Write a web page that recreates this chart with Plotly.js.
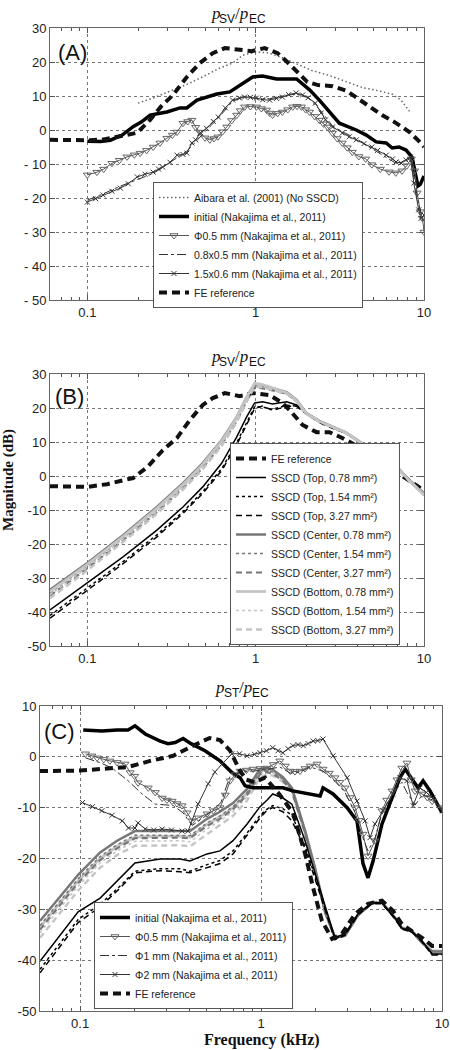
<!DOCTYPE html>
<html><head><meta charset="utf-8">
<script src="https://cdn.plot.ly/plotly-3.0.1.min.js"></script>
<style>html,body{margin:0;padding:0;background:#fff}</style>
</head><body><div id="chart" style="width:450px;height:1050px"></div>
<script>
// ---------- Panel A data ----------
const aibaraF = [0.2, 0.246, 0.323, 0.407, 0.51, 0.61, 0.73, 0.84, 1.01, 1.21, 1.45, 1.74, 2.16, 2.75, 3.47, 4.3, 5.4, 6.5, 7.3, 8.2];
const aibaraDB = [7.9, 9.4, 11.8, 13.8, 16.2, 18.2, 19.7, 22, 23, 22.6, 21.2, 19.5, 17.5, 16, 14.1, 12.5, 11.5, 10.5, 8.8, 5.5];
const initAF = [0.1, 0.12, 0.137, 0.161, 0.187, 0.21, 0.236, 0.297, 0.355, 0.39, 0.448, 0.513, 0.588, 0.702, 0.804, 0.96, 1.10, 1.33, 1.75, 2.09, 2.39, 2.74, 3.14, 3.96, 4.54, 5.2, 5.96, 6.47, 7.11, 7.82, 8.5, 9.2, 9.5, 10];
const initADB = [-3.3, -3.4, -3, -1.5, 1, 2.4, 4.4, 5.3, 6.5, 6.5, 8.8, 9.7, 10.6, 11.2, 13.2, 15.6, 15.9, 15, 15, 11.8, 8.8, 5.3, 2, 0, -1.5, -3.5, -3.8, -5.3, -5, -5.9, -8, -16.5, -16, -13.5];
const phi05AF = [0.1, 0.114, 0.125, 0.14, 0.155, 0.172, 0.19, 0.206, 0.225, 0.246, 0.27, 0.297, 0.32, 0.341, 0.37, 0.395, 0.418, 0.44, 0.466, 0.5, 0.534, 0.566, 0.596, 0.635, 0.674, 0.72, 0.772, 0.81, 0.86, 0.93, 1.01, 1.08, 1.16, 1.21, 1.26, 1.35, 1.44, 1.55, 1.66, 1.76, 1.87, 1.98, 2.09, 2.24, 2.39, 2.53, 2.67, 2.86, 3.05, 3.27, 3.5, 3.75, 4.1, 4.5, 4.9, 5.5, 6.2, 6.8, 7.4, 7.9, 8.4, 8.8, 9.1, 9.5, 9.8, 10];
const phi05ADB = [-13.2, -12.4, -11.5, -9.8, -8.9, -7.9, -7.3, -6.8, -6, -5, -3.8, -2.4, -1.5, -0.6, 2, 2.5, 2.9, 0.8, -0.6, -2.3, -2.9, -2.5, -2, -0.5, 0.9, 2.8, 4.4, 5.7, 6.8, 6.9, 6.8, 6.3, 5.9, 5, 4.4, 4.9, 5.3, 6, 6.8, 7, 6.8, 6, 5.3, 4, 2.9, 1.8, 0.9, -0.9, -2.5, -3.8, -5.2, -6.5, -7.8, -8.5, -10.2, -11.5, -12.3, -12.6, -12, -10.5, -8.5, -12, -18.5, -24, -26, -30];
const dd08AF = [0.1, 0.124, 0.157, 0.198, 0.246, 0.28, 0.341, 0.39, 0.44, 0.51, 0.6, 0.73, 0.86, 1.01, 1.21, 1.44, 1.74, 2.05, 2.45, 2.86, 3.27, 3.96, 4.9, 5.96, 6.83, 7.8, 8.3, 8.7, 9.3, 10];
const dd08ADB = [-20.6, -18.8, -16.5, -14.5, -12.8, -11, -8, -6.2, -3.5, 0, 3.5, 8.5, 9.8, 9.2, 9.2, 10, 10.6, 9.6, 5.5, 1.2, -0.5, -2.5, -5.5, -8, -9.8, -9.2, -8.3, -14, -22, -27];
const x15AF = [0.1, 0.112, 0.124, 0.14, 0.157, 0.175, 0.198, 0.22, 0.246, 0.265, 0.28, 0.31, 0.341, 0.37, 0.39, 0.418, 0.44, 0.466, 0.51, 0.56, 0.6, 0.66, 0.73, 0.8, 0.86, 0.93, 1.01, 1.1, 1.21, 1.33, 1.44, 1.57, 1.74, 1.9, 2.05, 2.26, 2.45, 2.6, 2.86, 3.27, 3.6, 3.96, 4.4, 4.9, 5.3, 5.96, 6.5, 6.83, 7.3, 7.8, 8.3, 8.7, 9.3, 9.6, 10];
const x15ADB = [-21.2, -20.2, -19.1, -18, -17.1, -15.8, -13.8, -13, -12.4, -11.5, -10.9, -9.5, -7.4, -7.2, -6.8, -3.8, -2.9, -1, 0.5, 2.5, 3.8, 6.5, 8.8, 9.4, 9.7, 9.6, 9.4, 8.9, 8.8, 9.3, 9.7, 10.4, 10.9, 10.3, 9.5, 7.9, 5, 3, 0.9, -0.9, -2, -2.9, -4, -5, -6, -7.4, -8.5, -9.4, -9.7, -8.8, -7.9, -15.6, -23.5, -26, -25];
const feAF = [0.06, 0.08, 0.104, 0.125, 0.15, 0.175, 0.198, 0.236, 0.275, 0.323, 0.39, 0.466, 0.556, 0.656, 0.77, 0.945, 1.13, 1.35, 1.54, 1.77, 2.03, 2.35, 2.86, 3.47, 4.02, 4.7, 5.63, 6.8, 8.2, 9.3, 10];
const feADB = [-2.9, -3, -3, -2.8, -2, -1.4, -0.8, 3, 7, 10.3, 15.6, 19.7, 22.6, 24.1, 23.6, 23.2, 24.1, 22.6, 20, 17, 14.1, 13.2, 12.9, 11.5, 9.4, 7.1, 4.4, 2.1, -0.6, -3.2, -5];

// ---------- Panel B data ----------
const feBF = [0.06, 0.1, 0.131, 0.187, 0.227, 0.281, 0.341, 0.407, 0.485, 0.556, 0.656, 0.804, 0.96, 1.21, 1.44, 1.59, 1.9, 2.3, 2.74, 3.27, 4.12, 5.2, 6.2, 7.8, 9.3, 10];
const feBDB = [-3, -3.2, -2.4, -0.6, 2.6, 7.6, 11.2, 16.5, 20.9, 22.9, 24.4, 23.5, 24.4, 23.8, 21.5, 19.4, 15, 12.9, 12.9, 11.2, 8.5, 5.6, 2.6, -0.6, -3.2, -4.5];
const sscdBF = [0.06, 0.1, 0.163, 0.259, 0.37, 0.485, 0.629, 0.772, 0.884, 0.986, 1.1, 1.26, 1.53, 1.75, 2.0, 2.39, 2.86, 3.45, 4.12, 4.92, 5.96, 7.1, 8.1, 10];
const topSolidB = [-39.4, -31.5, -23.8, -15.9, -9.1, -3.2, 3.8, 11.5, 17.4, 21.5, 21.8, 21.2, 21.8, 20.9, 18.5, 15.9, 14.4, 12.6, 10, 7.6, 4.7, 1.8, -1.2, -5.3];
const topDotB = [-41, -32.8, -25.2, -17.3, -10.5, -4.6, 2.2, 9.8, 15.8, 20.4, 20.3, 19.6, 20.8, 20.6, 18.4, 15.8, 14.2, 12.5, 9.9, 7.5, 4.6, 1.7, -1.2, -5.3];
const topDashB = [-41.8, -33.5, -25.8, -17.9, -11, -5.1, 1.6, 9.2, 15.2, 19.9, 20.6, 19.3, 20.5, 20.5, 18.3, 15.7, 14, 12.6, 10.1, 7.8, 5, 2.2, -0.8, -5];
const centerSolidB = [-33.5, -25.6, -17.4, -9.1, -2.1, 3.8, 10.6, 17.4, 23.2, 27, 26.6, 25.9, 24.7, 22.4, 18.5, 16.2, 14.6, 12.8, 10.2, 7.8, 4.9, 2, -1, -5.4];
const centerDotB = [-34.4, -26.4, -18.2, -9.9, -2.9, 3, 9.9, 16.8, 22.6, 26.4, 26.2, 25.4, 24.4, 22.2, 18.4, 16.1, 14.5, 12.7, 10.1, 7.7, 4.8, 1.9, -1.1, -5.5];
const centerDashB = [-35.2, -27.1, -18.9, -10.6, -3.6, 2.4, 9.3, 16.2, 22.1, 26, 25.8, 25.1, 24.2, 22, 18.3, 16, 14.4, 12.6, 10, 7.6, 4.7, 1.8, -1.2, -5.6];
const bottomSolidB = [-34, -26, -17.8, -9.5, -2.5, 3.4, 10.3, 17.2, 23.2, 27.3, 26.9, 25.9, 24.5, 22.2, 18.4, 16.1, 14.5, 12.7, 10.1, 7.7, 4.8, 1.9, -1.1, -5.5];
const bottomDotB = [-35, -26.9, -18.6, -10.3, -3.3, 2.7, 9.6, 16.5, 22.5, 26.8, 26.5, 25.6, 24.3, 22.1, 18.3, 16, 14.4, 12.6, 10, 7.6, 4.7, 1.8, -1.2, -5.6];
const bottomDashB = [-36, -27.8, -19.4, -11.1, -4, 2, 8.9, 15.8, 21.8, 26.3, 26.1, 25.3, 24.1, 21.9, 18.2, 15.9, 14.3, 12.5, 9.9, 7.5, 4.6, 1.7, -1.3, -5.7];

// ---------- Panel C data ----------
const sscdCF = [0.06, 0.0975, 0.129, 0.16, 0.201, 0.277, 0.357, 0.405, 0.503, 0.593, 0.7, 0.837, 0.987, 1.08, 1.16, 1.32, 1.48, 1.75, 1.99, 2.26, 2.56, 2.91, 3.43, 4.1, 4.66, 5.5, 6.0, 6.82, 7.76, 8.82, 10];
const topSolidC = [-40.2, -30.5, -27.8, -24.4, -20.9, -20.1, -20.1, -20.5, -19.1, -18.5, -16.5, -13.2, -9.8, -8.5, -7.3, -8.1, -9.3, -16.5, -23, -29.7, -35.6, -34.8, -30.9, -28.7, -28.7, -31.7, -33.7, -34.3, -36.2, -38.8, -38.8];
const topDotC = [-41.8, -32, -29, -26, -22.5, -22, -22, -22.5, -21.2, -20.4, -18.5, -15, -11.5, -10.3, -9.6, -10.2, -11.5, -17.5, -23.6, -30, -35.8, -35, -31, -28.8, -28.8, -31.8, -33.8, -34.4, -36.3, -38.9, -38.9];
const topDashC = [-42.5, -32.6, -29.5, -26.4, -22.8, -22.4, -22.6, -22.8, -21.8, -21, -19.1, -15.5, -12, -10.5, -10, -10.8, -12.6, -18, -24, -30.3, -36, -35.1, -31.1, -28.9, -28.9, -31.9, -33.9, -34.5, -36.4, -39, -39];
const centerSolidC = [-32.3, -23.2, -18.8, -16.5, -14.6, -14.6, -14.6, -14.6, -12.2, -10.8, -9.1, -6.3, -2.4, -2.2, -2.5, -4, -6.1, -14.5, -22, -30.5, -35.5, -35.2, -31.2, -28.7, -28.7, -31.7, -33.7, -34.3, -36.6, -38.3, -38.3];
const centerDotC = [-33.2, -24, -19.6, -17.3, -15.4, -15.4, -15.4, -15.5, -13, -11.6, -9.8, -7, -3, -2.7, -3, -4.4, -6.5, -14.7, -22.2, -30.6, -35.5, -35.2, -31.2, -28.7, -28.7, -31.7, -33.7, -34.3, -36.6, -38.3, -38.3];
const centerDashC = [-34, -24.8, -20.3, -18, -16, -15.9, -15.9, -16, -13.6, -12.2, -10.3, -7.5, -3.4, -3, -3.3, -4.7, -6.8, -15, -22.4, -30.7, -35.6, -35.2, -31.2, -28.7, -28.7, -31.7, -33.7, -34.3, -36.6, -38.3, -38.3];
const bottomSolidC = [-33.5, -24.4, -20, -17.6, -15.8, -15.6, -15.6, -15.8, -13.3, -11.8, -10, -7.2, -2.8, -2.4, -2.6, -4.1, -6.2, -14.6, -22, -30.5, -35.4, -35.1, -31.1, -28.6, -28.6, -31.6, -33.6, -34.2, -36.5, -38.2, -38.2];
const bottomDotC = [-34.6, -25.4, -20.9, -18.5, -16.6, -16.5, -16.5, -16.7, -14.2, -12.6, -10.8, -7.9, -3.4, -2.9, -3.1, -4.5, -6.6, -14.9, -22.3, -30.6, -35.5, -35.1, -31.1, -28.6, -28.6, -31.6, -33.6, -34.2, -36.5, -38.2, -38.2];
const bottomDashC = [-35.6, -26.3, -21.8, -19.3, -17.5, -17.4, -17.4, -17.6, -15.2, -13.5, -11.6, -8.6, -4, -3.5, -3.7, -4.9, -6.9, -15.2, -22.5, -30.8, -35.6, -35.2, -31.2, -28.7, -28.7, -31.7, -33.7, -34.3, -36.6, -38.3, -38.3];
const initCF = [0.104, 0.132, 0.16, 0.184, 0.201, 0.229, 0.277, 0.306, 0.335, 0.371, 0.41, 0.46, 0.49, 0.593, 0.69, 0.766, 0.816, 0.903, 1.08, 1.32, 1.5, 1.8, 2.12, 2.2, 2.5, 2.99, 3.39, 3.66, 3.9, 4.16, 4.66, 5.29, 5.86, 6.25, 6.92, 7.37, 7.86, 8.59, 10];
const initCDB = [5.3, 5.1, 5.3, 5.3, 6.1, 4.5, 3.1, 2.6, 2.8, 3.6, 2.6, 1.8, 1.2, -0.8, -3.1, -4.1, -5.7, -6.1, -6.1, -6.1, -6.7, -7.3, -7.7, -6.1, -7.3, -10, -12.6, -21, -23.8, -20.5, -13.2, -8.1, -4.1, -2.4, -4.7, -6.1, -4.7, -6.7, -11];
const phi05CF = [0.107, 0.116, 0.124, 0.135, 0.146, 0.16, 0.177, 0.189, 0.2, 0.209, 0.238, 0.26, 0.284, 0.302, 0.322, 0.343, 0.366, 0.39, 0.416, 0.45, 0.503, 0.545, 0.593, 0.634, 0.674, 0.72, 0.766, 0.83, 0.903, 0.99, 1.08, 1.17, 1.27, 1.36, 1.45, 1.54, 1.64, 1.75, 1.87, 2.04, 2.2, 2.38, 2.56, 2.72, 2.91, 3.1, 3.31, 3.48, 3.66, 3.9, 4.26, 4.66, 4.95, 5.29, 5.64, 6.0, 6.4, 6.75, 7.1, 7.76, 8.3, 8.82, 10];
const phi05CDB = [0.6, 0.2, -0.2, -0.5, -0.8, -1.1, -1.4, -3.1, -3.8, -5.1, -6.1, -7, -8.1, -8.5, -8.7, -9.2, -9.6, -11, -12.6, -12, -11.2, -10.6, -10, -7.5, -4.7, -3.5, -2.8, -2.6, -2.4, -2.3, -2.2, -1.5, -0.8, -1.8, -2.8, -2.9, -2.8, -2.3, -1.8, -1.4, -2.4, -3.2, -4.1, -5, -6.1, -8, -10, -12.5, -15.2, -19.5, -16.5, -10.6, -8.5, -6.7, -4.5, -2.2, -1.2, -4.5, -6.7, -7.3, -8, -8.7, -10];
const phi1CF = [0.107, 0.13, 0.15, 0.184, 0.22, 0.26, 0.306, 0.327, 0.37, 0.416, 0.5, 0.6, 0.67, 0.77, 0.9, 1.08, 1.27, 1.45, 1.64, 1.87, 2.2, 2.56, 2.91, 3.31, 3.66, 3.9, 4.26, 4.66, 5.29, 6.0, 6.4, 7.1, 7.76, 8.82, 10];
const phi1CDB = [-0.2, -1.2, -2.2, -4.7, -7.3, -9.3, -9.5, -9.6, -11, -13.5, -11.5, -9, -4, -3, -2.8, -2.5, -2, -3.2, -3, -2, -2.8, -4.8, -7, -11, -16, -18.5, -16, -11, -7.5, -5, -7, -9.5, -7.5, -8, -10.5];
const phi2CF = [0.103, 0.117, 0.132, 0.15, 0.171, 0.185, 0.201, 0.209, 0.229, 0.255, 0.284, 0.32, 0.366, 0.395, 0.449, 0.51, 0.555, 0.609, 0.69, 0.76, 0.837, 0.92, 0.987, 1.07, 1.16, 1.24, 1.32, 1.41, 1.5, 1.6, 1.71, 1.82, 1.94, 2.06, 2.2, 2.5, 2.99, 3.39, 3.76, 4.0, 4.26, 4.72, 5.36, 5.86, 6.4, 6.92, 7.55, 8.2, 8.92, 10];
const phi2CDB = [-9, -9.8, -10.6, -11.5, -12.6, -14, -14, -13, -14.2, -14.4, -14.2, -14.4, -14.6, -14.6, -9.3, -5.3, -3, -1.4, 0.6, 0.6, 0.2, 0.5, 0.8, 1.2, 1.8, 1.2, 0.8, 1.6, 2.2, 2.4, 2.2, 2.6, 3.1, 3.2, 3.5, 0.2, -4.1, -8.7, -12.6, -15.9, -13.2, -10.6, -7.3, -4.1, -4.7, -9.6, -6.1, -7, -8.1, -10.6];
const feCF = [0.06, 0.1, 0.129, 0.184, 0.244, 0.327, 0.421, 0.52, 0.593, 0.674, 0.766, 0.83, 0.92, 1.05, 1.24, 1.5, 1.75, 1.94, 2.17, 2.47, 2.8, 3.31, 3.9, 4.66, 5.36, 6.0, 6.82, 7.76, 8.82, 10];
const feCDB = [-2.8, -2.7, -2.4, -2, -0.8, 0.2, 2.2, 3.7, 3.3, 1.2, -2.8, -4.5, -5, -4.1, -7, -11, -19, -25.8, -32.3, -35.8, -34.8, -30.9, -28.9, -28.3, -30.3, -32.9, -34.3, -35.6, -37.2, -37.2];

// ---------- tick labels ----------
const xTickVals = [0.1, 1, 10];
const xTickText = ['0.1', '1', '10'];
const xMinorVals = [0.06, 0.07, 0.08, 0.09, 0.2, 0.3, 0.4, 0.5, 0.6, 0.7, 0.8, 0.9, 2, 3, 4, 5, 6, 7, 8, 9];
const yTickValsAB = [-50, -40, -30, -20, -10, 0, 10, 20, 30];
const yTickTextA = ['- 50', '- 40', '- 30', '- 20', '- 10', '0', '10', '20', '30'];
const yTickTextB = ['-50', '-40', '-30', '-20', '-10', '0', '10', '20', '30'];
const yTickValsC = [-50, -40, -30, -20, -10, 0, 10];
const yTickTextC = ['-50', '-40', '-30', '-20', '-10', '0', '10'];

// ---------- styles ----------
const W = 450, H = 1050;
const S = {
  aibara: {mode: 'lines', line: {color: '#666', width: 1.5, dash: '1.5px,2.5px'}},
  initial: {mode: 'lines', line: {color: '#000', width: 3.5}},
  phi05: {mode: 'lines+markers', line: {color: '#555', width: 1}, marker: {symbol: 'triangle-down-open', size: 7, color: '#666', line: {width: 1}}},
  dashdot: {mode: 'lines', line: {color: '#333', width: 1, dash: 'dashdot'}},
  xmark: {mode: 'lines+markers', line: {color: '#333', width: 1}, marker: {symbol: 'x-thin-open', size: 5, color: '#333', line: {width: 1, color: '#333'}}},
  fe: {mode: 'lines', line: {color: '#111', width: 4, dash: '8px,5px'}},
  topS: {mode: 'lines', line: {color: '#000', width: 1.5}},
  topDot: {mode: 'lines', line: {color: '#000', width: 1.5, dash: 'dot'}},
  topDash: {mode: 'lines', line: {color: '#000', width: 1.5, dash: '6px,4px'}},
  cenS: {mode: 'lines', line: {color: '#777', width: 2.5}},
  cenDot: {mode: 'lines', line: {color: '#777', width: 1.5, dash: 'dot'}},
  cenDash: {mode: 'lines', line: {color: '#777', width: 2.2, dash: '6px,4px'}},
  botS: {mode: 'lines', line: {color: '#c4c4c4', width: 2.8}},
  botDot: {mode: 'lines', line: {color: '#c4c4c4', width: 1.5, dash: 'dot'}},
  botDash: {mode: 'lines', line: {color: '#c4c4c4', width: 2.4, dash: '6px,4px'}}
};
function tr(x, y, ax, name, style, legend, show) {
  return Object.assign({type: 'scatter', x: x, y: y, name: name, xaxis: 'x' + ax, yaxis: 'y' + ax,
    legend: legend, showlegend: show !== false, hoverinfo: 'skip'}, JSON.parse(JSON.stringify(style)));
}
const m2 = ' mm²)';
const traces = [
  // A
  tr(aibaraF, aibaraDB, '', 'Aibara et al. (2001) (No SSCD)', S.aibara, 'legend'),
  tr(initAF, initADB, '', 'initial (Nakajima et al., 2011)', S.initial, 'legend'),
  tr(phi05AF, phi05ADB, '', 'Φ0.5 mm (Nakajima et al., 2011)', S.phi05, 'legend'),
  tr(dd08AF, dd08ADB, '', '0.8x0.5 mm (Nakajima et al., 2011)', S.dashdot, 'legend'),
  tr(x15AF, x15ADB, '', '1.5x0.6 mm (Nakajima et al., 2011)', S.xmark, 'legend'),
  tr(feAF, feADB, '', 'FE reference', S.fe, 'legend'),
  // B
  tr(feBF, feBDB, '2', 'FE reference', S.fe, 'legend2'),
  tr(sscdBF, topSolidB, '2', 'SSCD (Top, 0.78' + m2, S.topS, 'legend2'),
  tr(sscdBF, topDotB, '2', 'SSCD (Top, 1.54' + m2, S.topDot, 'legend2'),
  tr(sscdBF, topDashB, '2', 'SSCD (Top, 3.27' + m2, S.topDash, 'legend2'),
  tr(sscdBF, centerSolidB, '2', 'SSCD (Center, 0.78' + m2, S.cenS, 'legend2'),
  tr(sscdBF, centerDotB, '2', 'SSCD (Center, 1.54' + m2, S.cenDot, 'legend2'),
  tr(sscdBF, centerDashB, '2', 'SSCD (Center, 3.27' + m2, S.cenDash, 'legend2'),
  tr(sscdBF, bottomSolidB, '2', 'SSCD (Bottom, 0.78' + m2, S.botS, 'legend2'),
  tr(sscdBF, bottomDotB, '2', 'SSCD (Bottom, 1.54' + m2, S.botDot, 'legend2'),
  tr(sscdBF, bottomDashB, '2', 'SSCD (Bottom, 3.27' + m2, S.botDash, 'legend2'),
  // C (unlabelled SSCD curves)
  tr(sscdCF, bottomDashC, '3', 'SSCD (Bottom, 3.27' + m2, S.botDash, 'legend3', false),
  tr(sscdCF, bottomDotC, '3', 'SSCD (Bottom, 1.54' + m2, S.botDot, 'legend3', false),
  tr(sscdCF, bottomSolidC, '3', 'SSCD (Bottom, 0.78' + m2, S.botS, 'legend3', false),
  tr(sscdCF, centerDashC, '3', 'SSCD (Center, 3.27' + m2, S.cenDash, 'legend3', false),
  tr(sscdCF, centerDotC, '3', 'SSCD (Center, 1.54' + m2, S.cenDot, 'legend3', false),
  tr(sscdCF, centerSolidC, '3', 'SSCD (Center, 0.78' + m2, S.cenS, 'legend3', false),
  tr(sscdCF, topDashC, '3', 'SSCD (Top, 3.27' + m2, S.topDash, 'legend3', false),
  tr(sscdCF, topDotC, '3', 'SSCD (Top, 1.54' + m2, S.topDot, 'legend3', false),
  tr(sscdCF, topSolidC, '3', 'SSCD (Top, 0.78' + m2, S.topS, 'legend3', false),
  tr(initCF, initCDB, '3', 'initial (Nakajima et al., 2011)', S.initial, 'legend3'),
  tr(phi05CF, phi05CDB, '3', 'Φ0.5 mm (Nakajima et al., 2011)', S.phi05, 'legend3'),
  tr(phi1CF, phi1CDB, '3', 'Φ1 mm (Nakajima et al., 2011)', S.dashdot, 'legend3'),
  tr(phi2CF, phi2CDB, '3', 'Φ2 mm (Nakajima et al., 2011)', S.xmark, 'legend3'),
  tr(feCF, feCDB, '3', 'FE reference', S.fe, 'legend3')
];

const tickFont = {family: 'Liberation Sans, Arial, sans-serif', size: 13, color: '#222'};
function xax(x0, x1, y) {
  return {type: 'log', domain: [x0 / W, x1 / W], anchor: y, range: [Math.log10(0.06), 1],
    tickmode: 'array', tickvals: xTickVals, ticktext: xTickText, ticks: 'inside', ticklen: 5,
    tickcolor: '#555', showline: true, linecolor: '#666', linewidth: 1, mirror: 'ticks',
    showgrid: true, gridcolor: '#777', griddash: 'dot', gridwidth: 1, zeroline: false,
    tickfont: tickFont, fixedrange: true,
    minor: {tickmode: 'array', tickvals: xMinorVals, ticks: 'inside', ticklen: 3, tickcolor: '#555', showgrid: false}};
}
function yax(y0, y1, x, range, vals, text) {
  return {domain: [1 - y1 / H, 1 - y0 / H], anchor: x, range: range, tickmode: 'array',
    tickvals: vals, ticktext: text, ticks: 'inside', ticklen: 5, tickcolor: '#555',
    showline: true, linecolor: '#666', linewidth: 1, mirror: 'ticks', showgrid: true,
    gridcolor: '#777', griddash: 'dot', gridwidth: 1, zeroline: false, tickfont: tickFont, fixedrange: true};
}
const legFont = {family: 'Liberation Sans, Arial, sans-serif', size: 10.5, color: '#222'};
function leg(x, y, yanchor) {
  return {x: x / W, y: 1 - y / H, xanchor: 'left', yanchor: yanchor, xref: 'paper', yref: 'paper',
    bgcolor: '#fff', bordercolor: '#555', borderwidth: 1, font: legFont, traceorder: 'normal', itemwidth: 30};
}
function ann(text, x, y, size, extra) {
  return Object.assign({text: text, x: x / W, y: 1 - y / H, xref: 'paper', yref: 'paper',
    showarrow: false, xanchor: 'center', yanchor: 'middle',
    font: {family: 'Liberation Sans, Arial, sans-serif', size: size, color: '#111'}}, extra || {});
}
// panel titles p_XX / p_EC built from pieces (subscripts drawn as smaller, lowered text)
const cv = document.createElement('canvas').getContext('2d');
function tw(txt, font) { cv.font = font; return cv.measureText(txt).width; }
function titleAnns(sub, cx, cy) {
  const big = 17, small = 12;
  const wP = tw('p', 'italic ' + big + 'px "Liberation Serif"');
  const wSl = tw('/', big + 'px "Liberation Serif"');
  const wSub = tw(sub, small + 'px "Liberation Sans"');
  const wEC = tw('EC', small + 'px "Liberation Sans"');
  let x = cx - (wP + wSub + wSl + wP + wEC) / 2;
  const serif = {family: 'Liberation Serif, serif', size: big, color: '#111'};
  const sans = {family: 'Liberation Sans, Arial, sans-serif', size: small, color: '#111'};
  const out = [];
  function piece(text, w, font, dy) {
    out.push({text: text, x: x / W, y: 1 - (cy + dy) / H, xref: 'paper', yref: 'paper', xanchor: 'left',
      yanchor: 'middle', showarrow: false, font: font, borderpad: 0});
    x += w;
  }
  piece('<i>p</i>', wP, serif, 0);
  piece(sub, wSub, sans, 5.5);
  piece('/<i>p</i>', wSl + wP, serif, 0);
  piece('EC', wEC, sans, 5.5);
  return out;
}
const layout = {
  width: W, height: H, margin: {l: 0, r: 0, t: 0, b: 0},
  paper_bgcolor: '#fff', plot_bgcolor: '#fff',
  font: {family: 'Liberation Sans, Arial, sans-serif', color: '#222'},
  xaxis: xax(50, 424, 'y'),
  yaxis: yax(28, 300, 'x', [-50, 30], yTickValsAB, yTickTextA),
  xaxis2: xax(50, 424, 'y2'),
  yaxis2: yax(374, 646, 'x2', [-50, 30], yTickValsAB, yTickTextB),
  xaxis3: xax(40, 442, 'y3'),
  yaxis3: yax(706, 1011, 'x3', [-50, 10], yTickValsC, yTickTextC),
  legend: leg(153, 182, 'top'),
  legend2: leg(230, 645, 'bottom'),
  legend3: leg(94, 1009, 'bottom'),
  annotations: [].concat(
    titleAnns('SV', 237, 13),
    titleAnns('SV', 237, 356),
    titleAnns('ST', 241, 687),
    [
      ann('(A)', 72, 52, 22),
      ann('(B)', 69, 397, 22),
      ann('(C)', 59, 731, 22),
      ann('<b>Magnitude (dB)</b>', 9, 480, 15, {textangle: -90, font: {family: 'Liberation Serif, serif', size: 15, color: '#111'}}),
      ann('<b>Frequency (kHz)</b>', 262, 1040, 16, {font: {family: 'Liberation Serif, serif', size: 16, color: '#111'}})
    ])
};
Plotly.newPlot('chart', traces, layout, {displayModeBar: false, staticPlot: true});
</script></body></html>
